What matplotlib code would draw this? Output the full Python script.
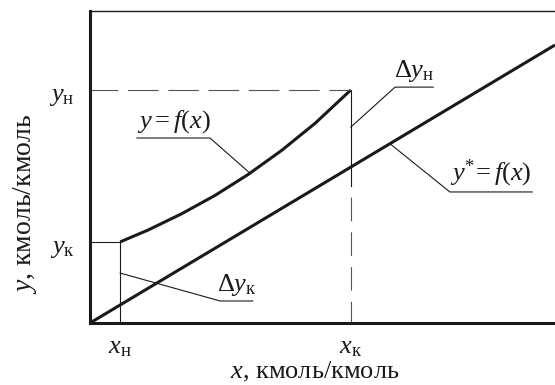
import numpy as np
import matplotlib
matplotlib.use("Agg")
import matplotlib.pyplot as plt
from matplotlib.transforms import ScaledTranslation

plt.rcParams['font.family'] = ['Liberation Serif', 'DejaVu Serif']
plt.rcParams['mathtext.fontset'] = 'custom'
plt.rcParams['mathtext.rm'] = 'Liberation Serif'
plt.rcParams['mathtext.it'] = 'Liberation Serif:italic'
plt.rcParams['lines.scale_dashes'] = False

# Boundary compositions
x_n, x_k = 0.065, 0.561
y_k, y_n = 0.26, 0.747

# Working line y = f(x)
curve_x = [0.065, 0.125, 0.197, 0.269, 0.340, 0.412, 0.484, 0.561]
curve_y = [0.26, 0.298, 0.350, 0.409, 0.476, 0.553, 0.640, 0.747]

# Equilibrium line y* = f(x)
eq_x = [0.0, 1.0]
eq_y = [0.0, 0.891]

x_ticks = [x_n, x_k]
x_tick_labels = [r'$x_{\mathrm{н}}$', r'$x_{\mathrm{к}}$']
y_ticks = [y_k, y_n]
y_tick_labels = [r'$y_{\mathrm{к}}$', r'$y_{\mathrm{н}}$']

ink = '#1a1a1a'
grey = '#555555'
thick = 2.2
thin = 0.8
fs = 19

fig = plt.figure(figsize=(5.55, 3.85), dpi=100)
ax = fig.add_axes([90 / 555, 62 / 385, 465 / 555, 312 / 385])
ax.set_xlim(0, 1)
ax.set_ylim(0, 1)

for side in ['left', 'bottom']:
    ax.spines[side].set_linewidth(thick)
    ax.spines[side].set_color(ink)
ax.spines['top'].set_linewidth(1.0)
ax.spines['top'].set_color(ink)
ax.spines['right'].set_visible(False)

# main lines
ax.plot(curve_x, curve_y, color=ink, lw=thick, solid_capstyle='butt',
        solid_joinstyle='round')
ax.plot(eq_x, eq_y, color=ink, lw=thick, solid_capstyle='butt', clip_on=False)

# helper lines at the column ends
ax.plot([0, x_k], [y_n, y_n], color=grey, lw=thin, linestyle=(2, (22, 7)))
y_cut = np.interp(x_k, eq_x, eq_y) - 0.06
ax.plot([x_k, x_k], [y_n, y_cut], color=ink, lw=thin)
ax.plot([x_k, x_k], [y_cut, 0], color=grey, lw=thin, linestyle=(17, (17, 8)))
ax.plot([0, x_n], [y_k, y_k], color=ink, lw=thin)
ax.plot([x_n, x_n], [y_k, 0], color=ink, lw=thin)


def callout(label, tx0, tx1, ty, px, py):
    ax.plot([px, tx0, tx1], [py, ty, ty], color=ink, lw=thin)
    ax.text((tx0 + tx1) / 2, ty + 0.01, label, ha='center', va='bottom',
            fontsize=fs, color=ink)


callout(r'$y = f(x)$', 0.258, 0.101, 0.593, 0.344, np.interp(0.344, curve_x, curve_y))
callout(r'$\Delta y_{\mathrm{н}}$', 0.656, 0.738, 0.756, x_k, 0.628)
callout(r'$y^{*}\!= f(x)$', 0.774, 0.951, 0.42, 0.645, np.interp(0.645, eq_x, eq_y))
callout(r'$\Delta y_{\mathrm{к}}$', 0.28, 0.35, 0.0705, x_n, 0.16)

ax.set_xticks(x_ticks)
ax.set_xticklabels(x_tick_labels, fontsize=fs)
ax.set_yticks(y_ticks)
ax.set_yticklabels(y_tick_labels, fontsize=fs)
ax.tick_params(axis='x', length=0, pad=10, colors=ink)
ax.tick_params(axis='y', length=0, pad=11, colors=ink)

# the y labels sit a little below their levels
shift = ScaledTranslation(0, -4 / 100, fig.dpi_scale_trans)
for lbl in ax.get_yticklabels():
    lbl.set_transform(lbl.get_transform() + shift)

ax.set_xlabel(r'$x$, кмоль/кмоль', fontsize=19, color=ink)
ax.set_ylabel(r'$y$, кмоль/кмоль', fontsize=20, color=ink)
ax.xaxis.set_label_coords(0.484, -0.118)
ax.yaxis.set_label_coords(-0.11, 0.381)

fig.savefig('out.png', dpi=100)
